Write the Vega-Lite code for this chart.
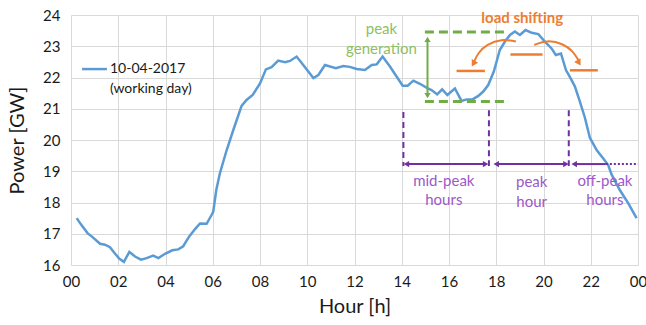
{
  "$schema": "https://vega.github.io/schema/vega-lite/v6.json",
  "autosize": "none",
  "width": 567,
  "height": 250,
  "padding": {"left": 71, "top": 15, "right": 8, "bottom": 60},
  "background": "white",
  "config": {
    "view": {"stroke": null},
    "font": "Lato",
    "axis": {"domain": false, "ticks": false, "grid": true, "gridColor": "#d9d9d9", "gridWidth": 1, "labelOverlap": false, "labelFlush": false, "labelBound": false, "labelFont": "Lato", "labelFontSize": 15, "labelColor": "#1a1a1a", "titleFont": "Lato", "titleFontSize": 20, "titleFontWeight": "normal", "titleColor": "#1a1a1a", "tickCount": 40}
  },
  "datasets": {
    "load": [
      {"hour": 0.24, "power": 17.5}, {"hour": 0.42, "power": 17.3}, {"hour": 0.7, "power": 17.02}, {"hour": 0.9, "power": 16.9},
      {"hour": 1.23, "power": 16.68}, {"hour": 1.44, "power": 16.65}, {"hour": 1.65, "power": 16.57}, {"hour": 1.86, "power": 16.37},
      {"hour": 2.05, "power": 16.2}, {"hour": 2.24, "power": 16.1}, {"hour": 2.47, "power": 16.42}, {"hour": 2.71, "power": 16.27},
      {"hour": 2.96, "power": 16.17}, {"hour": 3.2, "power": 16.22}, {"hour": 3.48, "power": 16.3}, {"hour": 3.7, "power": 16.22},
      {"hour": 3.98, "power": 16.36}, {"hour": 4.29, "power": 16.47}, {"hour": 4.54, "power": 16.5}, {"hour": 4.75, "power": 16.6},
      {"hour": 4.99, "power": 16.9}, {"hour": 5.25, "power": 17.15}, {"hour": 5.46, "power": 17.33}, {"hour": 5.74, "power": 17.32},
      {"hour": 5.95, "power": 17.6}, {"hour": 6.02, "power": 17.7}, {"hour": 6.15, "power": 18.4}, {"hour": 6.3, "power": 18.93},
      {"hour": 6.59, "power": 19.68}, {"hour": 6.87, "power": 20.32}, {"hour": 7.22, "power": 21.09}, {"hour": 7.43, "power": 21.28},
      {"hour": 7.69, "power": 21.44}, {"hour": 8.0, "power": 21.81}, {"hour": 8.25, "power": 22.26}, {"hour": 8.49, "power": 22.33},
      {"hour": 8.77, "power": 22.54}, {"hour": 9.06, "power": 22.49}, {"hour": 9.27, "power": 22.53}, {"hour": 9.55, "power": 22.67},
      {"hour": 9.83, "power": 22.4}, {"hour": 10.26, "power": 21.98}, {"hour": 10.47, "power": 22.08}, {"hour": 10.75, "power": 22.4},
      {"hour": 11.21, "power": 22.3}, {"hour": 11.52, "power": 22.37}, {"hour": 11.8, "power": 22.34}, {"hour": 12.09, "power": 22.27},
      {"hour": 12.44, "power": 22.24}, {"hour": 12.73, "power": 22.4}, {"hour": 12.94, "power": 22.42}, {"hour": 13.19, "power": 22.67},
      {"hour": 13.5, "power": 22.35}, {"hour": 13.78, "power": 22.03}, {"hour": 14.04, "power": 21.74}, {"hour": 14.25, "power": 21.74},
      {"hour": 14.49, "power": 21.9}, {"hour": 14.77, "power": 21.8}, {"hour": 15.08, "power": 21.66}, {"hour": 15.26, "power": 21.6},
      {"hour": 15.5, "power": 21.46}, {"hour": 15.71, "power": 21.62}, {"hour": 15.93, "power": 21.44}, {"hour": 16.25, "power": 21.65},
      {"hour": 16.53, "power": 21.25}, {"hour": 16.75, "power": 21.3}, {"hour": 17.0, "power": 21.3}, {"hour": 17.24, "power": 21.41},
      {"hour": 17.45, "power": 21.55}, {"hour": 17.66, "power": 21.76}, {"hour": 17.9, "power": 22.2}, {"hour": 18.15, "power": 22.88},
      {"hour": 18.37, "power": 23.15}, {"hour": 18.58, "power": 23.36}, {"hour": 18.79, "power": 23.47}, {"hour": 19.0, "power": 23.36},
      {"hour": 19.24, "power": 23.52}, {"hour": 19.5, "power": 23.43}, {"hour": 19.78, "power": 23.39}, {"hour": 20.06, "power": 23.15},
      {"hour": 20.34, "power": 22.93}, {"hour": 20.52, "power": 22.72}, {"hour": 20.74, "power": 22.77}, {"hour": 20.95, "power": 22.24},
      {"hour": 21.15, "power": 21.97}, {"hour": 21.33, "power": 21.71}, {"hour": 21.54, "power": 21.23}, {"hour": 21.75, "power": 20.72},
      {"hour": 21.96, "power": 20.08}, {"hour": 22.25, "power": 19.68}, {"hour": 22.53, "power": 19.41}, {"hour": 22.74, "power": 19.2},
      {"hour": 22.88, "power": 18.9}, {"hour": 23.23, "power": 18.4}, {"hour": 23.59, "power": 17.97}, {"hour": 23.94, "power": 17.5}
    ],
    "greenDash": [
      {"x1": 14.98, "x2": 18.37, "y": 23.46},
      {"x1": 14.98, "x2": 18.54, "y": 21.23}
    ],
    "greenArrow": [{"x": 15.09, "y1": 21.45, "y2": 23.2}],
    "greenHeads": [
      {"x": 15.09, "y": 23.22, "shape": "triangle-up"},
      {"x": 15.09, "y": 21.42, "shape": "triangle-down"}
    ],
    "greenText": [
      {"x": 13.14, "y": 23.55, "label": "peak"},
      {"x": 13.14, "y": 22.92, "label": "generation"}
    ],
    "orangeSeg": [
      {"x1": 16.32, "x2": 17.52, "y": 22.21},
      {"x1": 18.6, "x2": 19.96, "y": 22.74},
      {"x1": 21.12, "x2": 22.3, "y": 22.23}
    ],
    "orangeArc": [
      {"arc": "left", "x": 17.06, "y": 22.5},
      {"arc": "left", "x": 17.24, "y": 22.8},
      {"arc": "left", "x": 17.59, "y": 23.06},
      {"arc": "left", "x": 18.23, "y": 23.24},
      {"arc": "left", "x": 18.83, "y": 23.15},
      {"arc": "right", "x": 19.61, "y": 23.04},
      {"arc": "right", "x": 20.13, "y": 23.2},
      {"arc": "right", "x": 20.83, "y": 23.09},
      {"arc": "right", "x": 21.26, "y": 22.83},
      {"arc": "right", "x": 21.48, "y": 22.55}
    ],
    "orangeHeads": [
      {"x": 17.03, "y": 22.44, "angle": 30},
      {"x": 21.5, "y": 22.47, "angle": -30}
    ],
    "purpleDash": [
      {"x": 14.07, "y1": 20.9, "y2": 19.17},
      {"x": 17.69, "y1": 20.95, "y2": 19.17},
      {"x": 21.07, "y1": 20.95, "y2": 19.17}
    ],
    "purpleArrow": [
      {"x1": 14.25, "x2": 17.5, "y": 19.23},
      {"x1": 18.05, "x2": 20.9, "y": 19.23},
      {"x1": 21.35, "x2": 22.64, "y": 19.23}
    ],
    "purpleHeads": [
      {"x": 14.2, "y": 19.23, "shape": "triangle-left"},
      {"x": 17.55, "y": 19.23, "shape": "triangle-right"},
      {"x": 18.0, "y": 19.23, "shape": "triangle-left"},
      {"x": 20.95, "y": 19.23, "shape": "triangle-right"},
      {"x": 21.3, "y": 19.23, "shape": "triangle-left"}
    ],
    "purpleDot": [{"x1": 22.64, "x2": 24, "y": 19.23}],
    "purpleText": [
      {"x": 15.78, "y": 18.7, "label": "mid-peak"},
      {"x": 15.78, "y": 18.08, "label": "hours"},
      {"x": 19.5, "y": 18.67, "label": "peak"},
      {"x": 19.5, "y": 18.03, "label": "hour"},
      {"x": 22.6, "y": 18.7, "label": "off-peak"},
      {"x": 22.6, "y": 18.08, "label": "hours"}
    ],
    "legendLine": [{"x1": 0.47, "x2": 1.52, "y": 22.27}],
    "legendText": [
      {"x": 1.65, "y": 22.27, "label": "10-04-2017"},
      {"x": 1.65, "y": 21.63, "label": "(working day)"}
    ]
  },
  "layer": [
    {
      "data": {"name": "load"},
      "mark": {"type": "line", "color": "#5B9BD5", "strokeWidth": 2.5},
      "encoding": {
        "x": {"field": "hour", "type": "quantitative", "scale": {"domain": [0, 24], "nice": false, "zero": false},
              "axis": {"values": [0, 2, 4, 6, 8, 10, 12, 14, 16, 18, 20, 22, 24], "tickCount": 40, "labelExpr": "datum.value == 24 ? '00' : (datum.value < 10 ? '0' + datum.value : '' + datum.value)", "title": "Hour [h]", "labelPadding": 9, "titleY": 31}},
        "y": {"field": "power", "type": "quantitative", "scale": {"domain": [16, 24], "nice": false, "zero": false},
              "axis": {"values": [16, 17, 18, 19, 20, 21, 22, 23, 24], "tickCount": 40, "format": "d", "labelExpr": "'' + datum.value", "title": "Power [GW]", "labelPadding": 11, "titleX": -44}}
      }
    },
    {
      "data": {"name": "greenDash"},
      "mark": {"type": "rule", "color": "#70AD47", "strokeWidth": 3, "strokeDash": [9, 5]},
      "encoding": {"x": {"field": "x1", "type": "quantitative"}, "x2": {"field": "x2"}, "y": {"field": "y", "type": "quantitative"}}
    },
    {
      "data": {"name": "greenArrow"},
      "mark": {"type": "rule", "color": "#70AD47", "strokeWidth": 2},
      "encoding": {"x": {"field": "x", "type": "quantitative"}, "y": {"field": "y1", "type": "quantitative"}, "y2": {"field": "y2"}}
    },
    {
      "data": {"name": "greenHeads"},
      "mark": {"type": "point", "filled": true, "color": "#70AD47", "size": 40, "opacity": 1},
      "encoding": {"x": {"field": "x", "type": "quantitative"}, "y": {"field": "y", "type": "quantitative"}, "shape": {"field": "shape", "type": "nominal", "scale": null}}
    },
    {
      "data": {"name": "greenText"},
      "mark": {"type": "text", "color": "#8DC063", "fontSize": 15, "font": "Lato"},
      "encoding": {"x": {"field": "x", "type": "quantitative"}, "y": {"field": "y", "type": "quantitative"}, "text": {"field": "label"}}
    },
    {
      "data": {"name": "orangeSeg"},
      "mark": {"type": "rule", "color": "#ED7D31", "strokeWidth": 2.5},
      "encoding": {"x": {"field": "x1", "type": "quantitative"}, "x2": {"field": "x2"}, "y": {"field": "y", "type": "quantitative"}}
    },
    {
      "data": {"name": "orangeArc"},
      "mark": {"type": "line", "color": "#ED7D31", "strokeWidth": 2, "interpolate": "basis"},
      "encoding": {"x": {"field": "x", "type": "quantitative"}, "y": {"field": "y", "type": "quantitative"}, "detail": {"field": "arc"}}
    },
    {
      "data": {"name": "orangeHeads"},
      "mark": {"type": "point", "filled": true, "color": "#ED7D31", "size": 55, "shape": "triangle-down", "opacity": 1},
      "encoding": {"x": {"field": "x", "type": "quantitative"}, "y": {"field": "y", "type": "quantitative"}, "angle": {"field": "angle", "type": "quantitative", "scale": null}}
    },
    {
      "data": {"values": [{"x": 19.1, "y": 23.9, "label": "load shifting"}]},
      "mark": {"type": "text", "color": "#ED7D31", "fontSize": 15, "fontWeight": "bold", "font": "Lato"},
      "encoding": {"x": {"field": "x", "type": "quantitative"}, "y": {"field": "y", "type": "quantitative"}, "text": {"field": "label"}}
    },
    {
      "data": {"name": "purpleDash"},
      "mark": {"type": "rule", "color": "#7030A0", "strokeWidth": 2, "strokeDash": [6, 4]},
      "encoding": {"x": {"field": "x", "type": "quantitative"}, "y": {"field": "y1", "type": "quantitative"}, "y2": {"field": "y2"}}
    },
    {
      "data": {"name": "purpleArrow"},
      "mark": {"type": "rule", "color": "#7030A0", "strokeWidth": 2},
      "encoding": {"x": {"field": "x1", "type": "quantitative"}, "x2": {"field": "x2"}, "y": {"field": "y", "type": "quantitative"}}
    },
    {
      "data": {"name": "purpleHeads"},
      "mark": {"type": "point", "filled": true, "color": "#7030A0", "size": 40, "opacity": 1},
      "encoding": {"x": {"field": "x", "type": "quantitative"}, "y": {"field": "y", "type": "quantitative"}, "shape": {"field": "shape", "type": "nominal", "scale": null}}
    },
    {
      "data": {"name": "purpleDot"},
      "mark": {"type": "rule", "color": "#7030A0", "strokeWidth": 2, "strokeDash": [2, 2]},
      "encoding": {"x": {"field": "x1", "type": "quantitative"}, "x2": {"field": "x2"}, "y": {"field": "y", "type": "quantitative"}}
    },
    {
      "data": {"name": "purpleText"},
      "mark": {"type": "text", "color": "#9B59C8", "fontSize": 15, "font": "Lato"},
      "encoding": {"x": {"field": "x", "type": "quantitative"}, "y": {"field": "y", "type": "quantitative"}, "text": {"field": "label"}}
    },
    {
      "data": {"name": "legendLine"},
      "mark": {"type": "rule", "color": "#5B9BD5", "strokeWidth": 2.5},
      "encoding": {"x": {"field": "x1", "type": "quantitative"}, "x2": {"field": "x2"}, "y": {"field": "y", "type": "quantitative"}}
    },
    {
      "data": {"name": "legendText"},
      "mark": {"type": "text", "color": "#1a1a1a", "fontSize": 14, "font": "Lato", "align": "left"},
      "encoding": {"x": {"field": "x", "type": "quantitative"}, "y": {"field": "y", "type": "quantitative"}, "text": {"field": "label"}}
    }
  ]
}
